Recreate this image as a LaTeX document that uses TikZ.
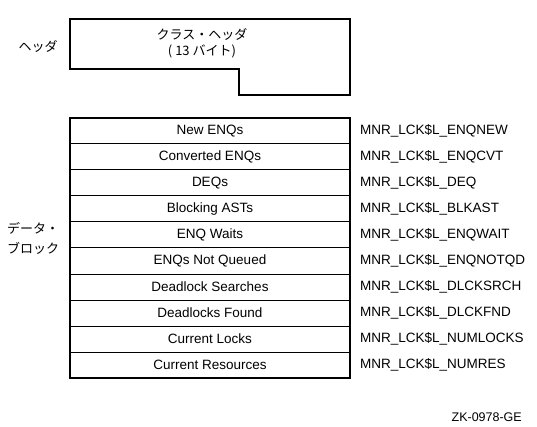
\documentclass[tikz,border=0pt]{standalone}
\usepackage{fontspec}
\setmainfont{Liberation Sans}
\newfontfamily\jpfont{Noto Sans CJK JP}

\begin{document}
\begin{tikzpicture}[x=1pt,y=-1pt]

    % Рамка:
    \useasboundingbox (0,0) rectangle (537,427);

    % Стили:
    \tikzstyle{pole}=[draw, line width=1pt, minimum width=280pt,
    minimum height=26pt, inner sep=0pt, outer sep=0pt, anchor=north,
    font=\fontsize{13.5}{16}\selectfont]
    \tikzstyle{imya}=[anchor=west, inner sep=0pt,
    font=\fontsize{13.5}{16}\selectfont]
    \tikzstyle{yarlyk}=[inner sep=0pt, align=left,
    font=\jpfont\fontsize{13}{20}\selectfont]
    \tikzstyle{kontur}=[draw, line width=2pt]

    \newcommand{\pole}[3]{node (r#1) [pole] {#2}
        (r#1.east)+(10,0) node (n#1) [imya] {#3}}

    % Заголовок:
    \draw[kontur] (70,19) -- (350,19) -- (350,95) -- (239,95)
        -- (239,69) -- (70,69) -- cycle;
    \node (klass) [yarlyk, align=center,
        font=\jpfont\fontsize{13}{16}\selectfont] at (202,43)
        {クラス・ヘッダ\\( 13 バイト)};
    \node (hed) [yarlyk] at (38,46) {ヘッダ};

    % Поля:
    \path (210,118) \pole{1}{New ENQs}{MNR\_LCK\$L\_ENQNEW};
    \path (r1.south) \pole{2}{Converted ENQs}{MNR\_LCK\$L\_ENQCVT};
    \path (r2.south) \pole{3}{DEQs}{MNR\_LCK\$L\_DEQ};
    \path (r3.south) \pole{4}{Blocking ASTs}{MNR\_LCK\$L\_BLKAST};
    \path (r4.south) \pole{5}{ENQ Waits}{MNR\_LCK\$L\_ENQWAIT};
    \path (r5.south) \pole{6}{ENQs Not Queued}{MNR\_LCK\$L\_ENQNOTQD};
    \path (r6.south) \pole{7}{Deadlock Searches}{MNR\_LCK\$L\_DLCKSRCH};
    \path (r7.south) \pole{8}{Deadlocks Found}{MNR\_LCK\$L\_DLCKFND};
    \path (r8.south) \pole{9}{Current Locks}{MNR\_LCK\$L\_NUMLOCKS};
    \path (r9.south) \pole{10}{Current Resources}{MNR\_LCK\$L\_NUMRES};

    \draw[kontur] (r1.north west) rectangle (r10.south east);
    \node (dann) [yarlyk, anchor=west] at (7,238) {データ・\\ブロック};

    % Код рисунка:
    \node (kod) [anchor=east, inner sep=0pt,
        font=\fontsize{12.5}{14}\selectfont] at (522,417) {ZK-0978-GE};
\end{tikzpicture}
\end{document}
